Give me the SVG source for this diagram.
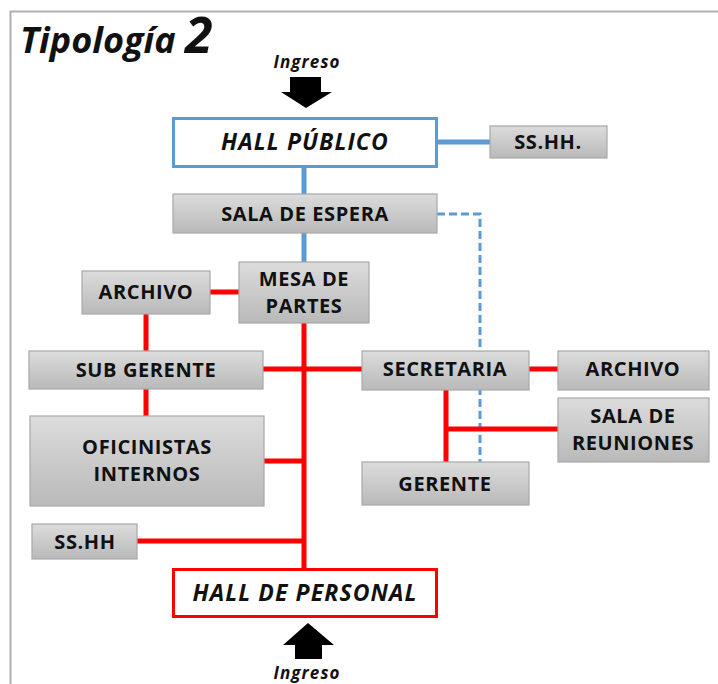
<svg xmlns="http://www.w3.org/2000/svg" width="718" height="684" viewBox="0 0 718 684">
<defs>
<linearGradient id="g" x1="0" y1="0" x2="0" y2="1">
<stop offset="0" stop-color="#dcdcdc"/>
<stop offset="1" stop-color="#b9b9b9"/>
</linearGradient>
<style>
.box{fill:url(#g);stroke:#a8a8a8;stroke-width:1.2}
.t{font-family:"Open Sans","DejaVu Sans",sans-serif;font-weight:bold;font-size:20px;letter-spacing:0.6px;fill:#111;text-anchor:middle}
.h{font-family:"Open Sans","DejaVu Sans",sans-serif;font-weight:bold;font-style:italic;font-size:23px;letter-spacing:1.1px;fill:#111;text-anchor:middle}
.ing{font-family:"Open Sans","DejaVu Sans",sans-serif;font-weight:bold;font-style:italic;font-size:17px;letter-spacing:1.1px;fill:#111;text-anchor:middle}
.r{stroke:#ff0000;stroke-width:5;fill:none}
.b{stroke:#5b9bd5;stroke-width:5;fill:none}
.d{stroke:#5b9bd5;stroke-width:3;fill:none;stroke-dasharray:8 4}
</style>
</defs>
<rect width="718" height="684" fill="#fff"/>
<path d="M10.5 684 V11.5 H718" fill="none" stroke="#b0b0b0" stroke-width="2"/>
<text x="20" y="53" font-family="'Open Sans','DejaVu Sans',sans-serif" font-weight="bold" font-style="italic" font-size="36" fill="#111">Tipología <tspan font-size="50">2</tspan></text>

<g id="connectors">
<line class="b" x1="304" y1="167" x2="304" y2="194"/>
<line class="b" x1="304" y1="233" x2="304" y2="262"/>
<line class="b" x1="437" y1="142" x2="490" y2="142"/>
<polyline class="d" points="437,214 480,214 480,462"/>
<line class="r" x1="304" y1="323" x2="304" y2="569"/>
<line class="r" x1="210" y1="292" x2="239" y2="292"/>
<line class="r" x1="146" y1="314" x2="146" y2="351"/>
<line class="r" x1="146" y1="389" x2="146" y2="416"/>
<line class="r" x1="263" y1="369" x2="362" y2="369"/>
<line class="r" x1="264" y1="461" x2="304" y2="461"/>
<line class="r" x1="137" y1="541" x2="304" y2="541"/>
<line class="r" x1="529" y1="369" x2="558" y2="369"/>
<line class="r" x1="446" y1="390" x2="446" y2="462"/>
<line class="r" x1="444" y1="429" x2="558" y2="429"/>
</g>

<g id="ingreso-top">
<text class="ing" x="307" y="68">Ingreso</text>
<polygon points="290,77 321,77 321,92 332,92 306,108 281,92 290,92" fill="#000"/>
</g>
<g id="hall-publico">
<rect x="173.5" y="118.5" width="263" height="48" fill="#fff" stroke="#5b9bd5" stroke-width="3"/>
<text class="h" x="305" y="150">HALL PÚBLICO</text>
</g>
<g id="sshh-publico">
<rect class="box" x="490" y="126" width="117" height="32"/>
<text class="t" x="548" y="149">SS.HH.</text>
</g>
<g id="sala-espera">
<rect class="box" x="173" y="194" width="264" height="39"/>
<text class="t" x="305" y="221">SALA DE ESPERA</text>
</g>
<g id="mesa-partes">
<rect class="box" x="239" y="262" width="130" height="61"/>
<text class="t" x="304" y="286">MESA DE</text>
<text class="t" x="304" y="313">PARTES</text>
</g>
<g id="archivo-izq">
<rect class="box" x="82" y="271" width="128" height="43"/>
<text class="t" x="146" y="299">ARCHIVO</text>
</g>
<g id="sub-gerente">
<rect class="box" x="29" y="351" width="234" height="38"/>
<text class="t" x="146" y="377">SUB GERENTE</text>
</g>
<g id="oficinistas">
<rect class="box" x="30" y="416" width="234" height="90"/>
<text class="t" x="147" y="454">OFICINISTAS</text>
<text class="t" x="147" y="481">INTERNOS</text>
</g>
<g id="secretaria">
<rect class="box" x="362" y="351" width="167" height="39"/>
<text class="t" x="445" y="376">SECRETARIA</text>
</g>
<g id="archivo-der">
<rect class="box" x="558" y="351" width="151" height="39"/>
<text class="t" x="633" y="376">ARCHIVO</text>
</g>
<g id="sala-reuniones">
<rect class="box" x="558" y="398" width="151" height="64"/>
<text class="t" x="633" y="423">SALA DE</text>
<text class="t" x="633" y="450">REUNIONES</text>
</g>
<g id="gerente">
<rect class="box" x="362" y="462" width="167" height="43"/>
<text class="t" x="445" y="491">GERENTE</text>
</g>
<g id="sshh-personal">
<rect class="box" x="32" y="524" width="105" height="35"/>
<text class="t" x="85" y="549">SS.HH</text>
</g>
<g id="hall-personal">
<rect x="173.5" y="569.5" width="263" height="47" fill="#fff" stroke="#ff0000" stroke-width="3"/>
<text class="h" x="305" y="601">HALL DE PERSONAL</text>
</g>
<g id="ingreso-bottom">
<polygon points="308,623 334,645 322,645 322,659 295,659 295,645 283,645" fill="#000"/>
<text class="ing" x="307" y="679">Ingreso</text>
</g>
</svg>
